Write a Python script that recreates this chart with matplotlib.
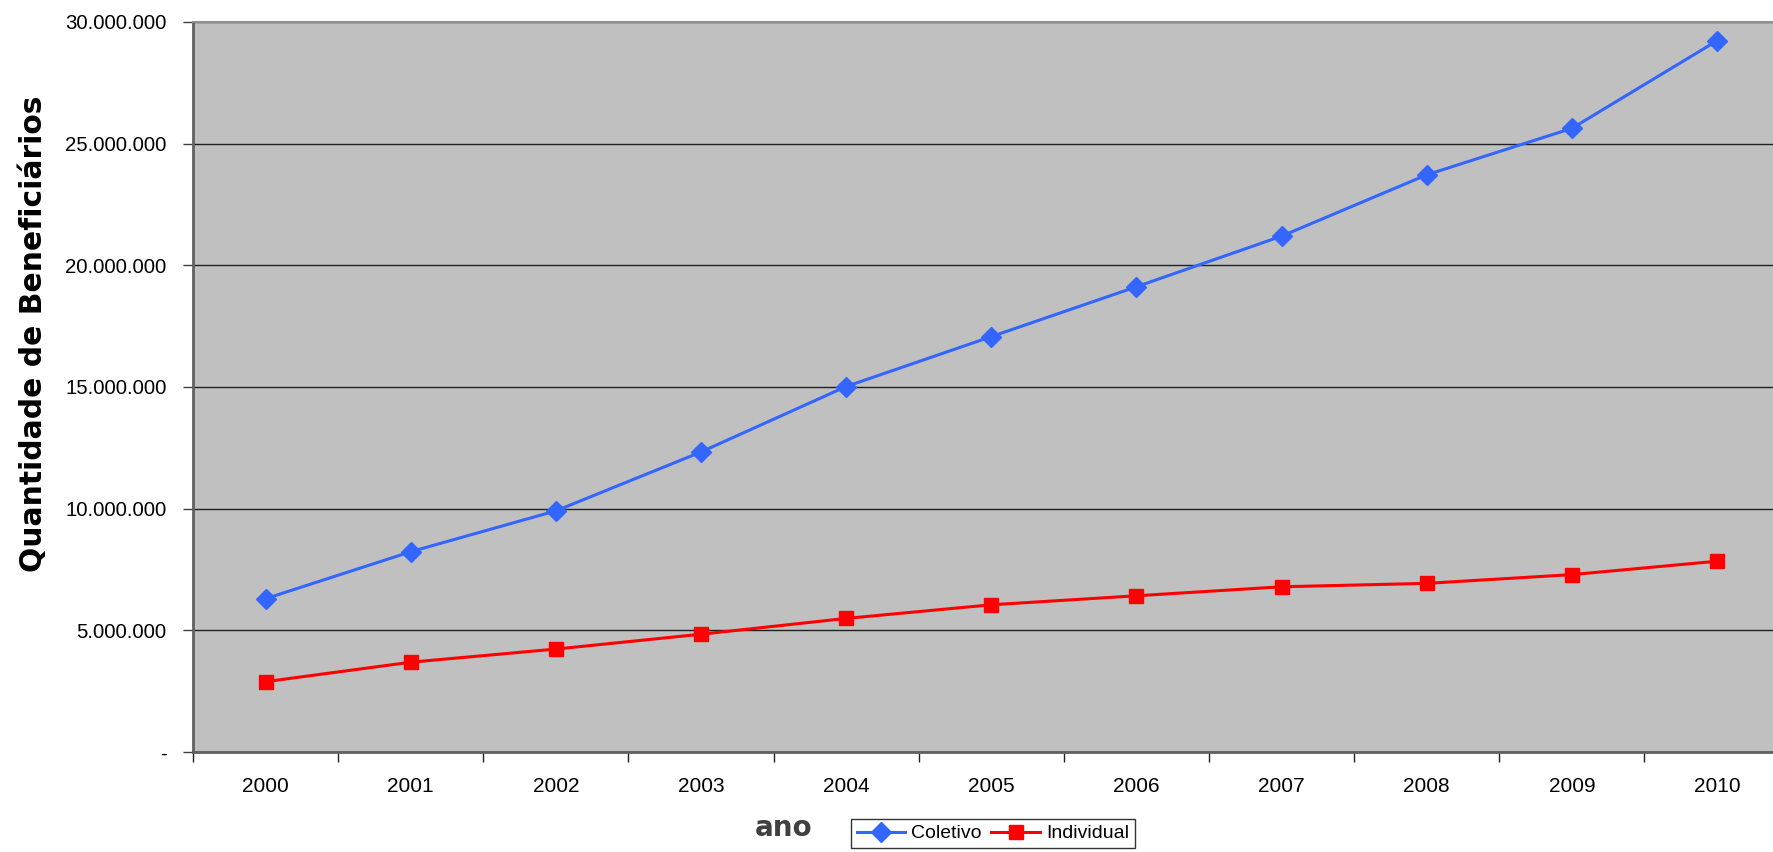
import matplotlib
matplotlib.use('Agg')
import matplotlib.pyplot as plt
from matplotlib.ticker import FuncFormatter, FixedLocator

anos = ['2000', '2001', '2002', '2003', '2004', '2005', '2006', '2007', '2008', '2009', '2010']
coletivo = [6300000, 8230000, 9910000, 12330000, 15020000, 17070000, 19120000, 21200000, 23720000, 25630000, 29230000]
individual = [2890000, 3690000, 4230000, 4840000, 5490000, 6050000, 6420000, 6790000, 6930000, 7290000, 7840000]

plt.rcParams['font.family'] = ['Liberation Sans', 'DejaVu Sans']

fig = plt.figure(figsize=(17.74, 8.52), dpi=100)
ax = fig.add_axes([193 / 1774, 100 / 852, (1789.6 - 193) / 1774, 730 / 852])
ax.set_facecolor('#c0c0c0')

x = list(range(len(anos)))
ax.plot(x, coletivo, color='#3366ff', lw=2.2, marker='D', markersize=10, label='Coletivo', zorder=3)
ax.plot(x, individual, color='#ff0000', lw=2.2, marker='s', markersize=10, label='Individual', zorder=3)

ax.set_xlim(-0.5, len(anos) - 0.5)
ax.set_ylim(0, 30000000)
ax.set_yticks(range(0, 30000001, 5000000))


def fmt(v, pos):
    if v == 0:
        return '-'
    return f'{int(v):,}'.replace(',', '.')


ax.yaxis.set_major_formatter(FuncFormatter(fmt))
ax.yaxis.grid(True, color='#202020', lw=1)
ax.set_axisbelow(True)

ax.set_xticks(x)
ax.set_xticklabels(anos)
ax.xaxis.set_minor_locator(FixedLocator([i - 0.5 for i in range(len(anos) + 1)]))
ax.tick_params(axis='x', which='major', length=0, pad=18, labelsize=15)
ax.tick_params(axis='x', which='minor', length=7, width=1, color='#202020', direction='out')
ax.tick_params(axis='y', length=7, width=1, color='#404040', labelsize=14.7, pad=12)

for s in ['left', 'bottom']:
    ax.spines[s].set_color('#606060')
    ax.spines[s].set_linewidth(2)
ax.spines['top'].set_color('#909090')
ax.spines['top'].set_linewidth(1.5)
ax.spines['right'].set_visible(False)

fig.text(34 / 1774, 1 - 334 / 852, 'Quantidade de Beneficiários', fontsize=21.4, fontweight='bold',
         family='DejaVu Sans', rotation=90, ha='center', va='center')
fig.text(784 / 1774, 1 - 828 / 852, 'ano', fontsize=20, fontweight='bold', family='DejaVu Sans',
         color='#404040', ha='center', va='center')

leg = fig.legend(loc='upper left', bbox_to_anchor=(851 / 1774, 1 - 819 / 852), ncol=2, fontsize=14,
                 frameon=True, fancybox=False, edgecolor='black', borderpad=0.3, handlelength=2.5,
                 columnspacing=0.5, handletextpad=0.3, borderaxespad=0)
leg.get_frame().set_linewidth(1)

fig.savefig('out.png', dpi=100)
